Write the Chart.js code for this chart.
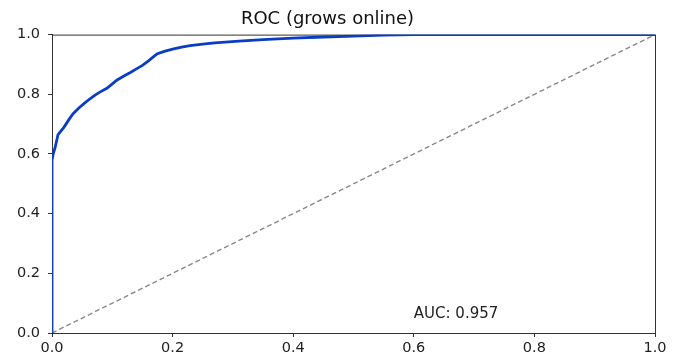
<!DOCTYPE html>
<html>
<head>
<meta charset="utf-8">
<script src="https://cdn.jsdelivr.net/npm/chart.js@4"></script>
<style>
  html, body { margin: 0; padding: 0; background: #fff; }
  #wrap { width: 682px; height: 358px; }
</style>
</head>
<body>
<div id="wrap"><canvas id="rocChart" width="682" height="358"></canvas></div>
<script>
// ROC curve values
const fpr = [0, 0, 0.002, 0.005, 0.01, 0.02, 0.028, 0.035, 0.045, 0.055, 0.063, 0.072, 0.08, 0.091, 0.1, 0.108, 0.12, 0.13, 0.14, 0.15, 0.16, 0.174, 0.185, 0.2, 0.215, 0.229, 0.25, 0.27, 0.31, 0.35, 0.4, 0.45, 0.5, 0.55, 0.6, 0.8, 1.0];
const tpr = [0, 0.58, 0.6, 0.62, 0.665, 0.69, 0.715, 0.735, 0.755, 0.772, 0.785, 0.798, 0.808, 0.82, 0.835, 0.848, 0.862, 0.873, 0.885, 0.897, 0.912, 0.935, 0.943, 0.951, 0.958, 0.963, 0.968, 0.972, 0.978, 0.983, 0.988, 0.992, 0.995, 0.998, 1.0, 1.0, 1.0];
const chanceX = [0, 1];
const chanceY = [0, 1];
const tickValues = [0, 0.2, 0.4, 0.6, 0.8, 1.0];
const titleText = 'ROC (grows online)';
const aucLabel = 'AUC: 0.957';
const aucPos = [0.6, 0.05];

const FONT = "'DejaVu Sans', sans-serif";
const AXIS_COLOR = '#333';

// box round the plot (under the lines) + the AUC note
const framePlugin = {
  id: 'frame',
  beforeDatasetsDraw(chart) {
    const { ctx, chartArea: a } = chart;
    ctx.save();
    ctx.strokeStyle = AXIS_COLOR;
    ctx.lineWidth = 1;
    ctx.strokeRect(a.left + 0.5, a.top + 0.5, a.right - a.left, a.bottom - a.top);
    ctx.restore();
  },
  afterDraw(chart) {
    const { ctx, scales } = chart;
    ctx.save();
    ctx.fillStyle = '#222';
    ctx.font = '15px ' + FONT;
    ctx.textAlign = 'left';
    ctx.textBaseline = 'alphabetic';
    ctx.fillText(aucLabel, scales.x.getPixelForValue(aucPos[0]), scales.y.getPixelForValue(aucPos[1]));
    ctx.restore();
  }
};

const axisOpts = (size, pad) => ({
  type: 'linear',
  min: 0,
  max: 1,
  afterBuildTicks: (scale) => { scale.ticks = tickValues.map(v => ({ value: v })); },
  afterFit: (scale) => { if (scale.isHorizontal()) scale.height = size; else scale.width = size; },
  grid: { drawOnChartArea: false, drawTicks: true, tickLength: 4, color: AXIS_COLOR },
  border: { display: true, color: AXIS_COLOR, width: 1 },
  ticks: {
    color: '#222',
    font: { family: FONT, size: 14.5 },
    padding: pad,
    maxRotation: 0,
    callback: (v) => Number(v).toFixed(1)
  }
});

new Chart(document.getElementById('rocChart'), {
  type: 'scatter',
  data: {
    datasets: [
      {
        label: 'ROC',
        data: fpr.map((x, i) => ({ x: x, y: tpr[i] })),
        showLine: true,
        borderColor: '#0a3cc4',
        borderWidth: 2.8,
        pointRadius: 0,
        fill: false,
        tension: 0
      },
      {
        label: 'chance',
        data: chanceX.map((x, i) => ({ x: x, y: chanceY[i] })),
        showLine: true,
        borderColor: '#888',
        borderWidth: 1.4,
        borderDash: [5, 3],
        pointRadius: 0,
        fill: false
      }
    ]
  },
  options: {
    responsive: false,
    animation: false,
    layout: { padding: { left: 0, right: 27, top: 0, bottom: 0 } },
    plugins: {
      legend: { display: false },
      tooltip: { enabled: false },
      title: {
        display: true,
        text: titleText,
        color: '#111',
        font: { family: FONT, size: 18, weight: 'normal' },
        padding: { top: 9, bottom: 4 }
      }
    },
    scales: {
      x: axisOpts(25, 3),
      y: axisOpts(52, 8)
    }
  },
  plugins: [framePlugin]
});
</script>
</body>
</html>
